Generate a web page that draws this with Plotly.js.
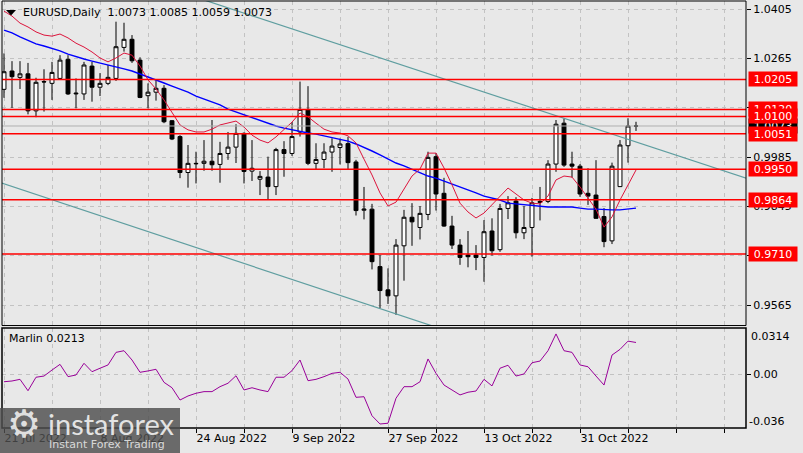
<!DOCTYPE html>
<html><head><meta charset="utf-8">
<script src="https://cdn.plot.ly/plotly-3.0.1.min.js"></script>
<style>html,body{margin:0;padding:0;background:#e8e8e8;}#chart{width:803px;height:453px;}</style>
</head><body><div id="chart"></div>
<script>
// ---------- data ----------
const dates = ["2022-07-21","2022-07-22","2022-07-25","2022-07-26","2022-07-27","2022-07-28","2022-07-29",
"2022-08-01","2022-08-02","2022-08-03","2022-08-04","2022-08-05","2022-08-08","2022-08-09","2022-08-10","2022-08-11","2022-08-12",
"2022-08-15","2022-08-16","2022-08-17","2022-08-18","2022-08-19","2022-08-22","2022-08-23","2022-08-24","2022-08-25","2022-08-26",
"2022-08-29","2022-08-30","2022-08-31","2022-09-01","2022-09-02","2022-09-05","2022-09-06","2022-09-07","2022-09-08","2022-09-09",
"2022-09-12","2022-09-13","2022-09-14","2022-09-15","2022-09-16","2022-09-19","2022-09-20","2022-09-21","2022-09-22","2022-09-23",
"2022-09-26","2022-09-27","2022-09-28","2022-09-29","2022-09-30","2022-10-03","2022-10-04","2022-10-05","2022-10-06","2022-10-07",
"2022-10-10","2022-10-11","2022-10-12","2022-10-13","2022-10-14","2022-10-17","2022-10-18","2022-10-19","2022-10-20","2022-10-21",
"2022-10-24","2022-10-25","2022-10-26","2022-10-27","2022-10-28","2022-10-31","2022-11-01","2022-11-02","2022-11-03","2022-11-04",
"2022-11-07","2022-11-08","2022-11-09"];

const open = [1.0177,1.0229,1.0211,1.0221,1.0116,1.0199,1.0194,1.0208,1.0262,1.0164,
1.0164,1.0243,1.0183,1.0194,1.0208,1.0296,1.0319,1.0260,1.0159,1.0169,
1.0180,1.0088,1.0043,0.9941,0.9967,0.9967,0.9973,0.9964,0.9995,1.0013,
1.0052,0.9945,0.9922,0.9928,0.9901,1.0006,0.9995,1.0056,1.0120,0.9967,
0.9978,0.9999,1.0012,1.0023,0.9971,0.9834,0.9837,0.9674,0.9608,0.9591,
0.9733,0.9814,0.9785,0.9822,0.9986,0.9882,0.9789,0.9735,0.9707,0.9707,
0.9700,0.9775,0.9722,0.9839,0.9860,0.9770,0.9785,0.9856,0.9859,0.9965,
1.0081,0.9965,0.9959,0.9882,0.9877,0.9816,0.9747,0.9901,1.0017,1.0073];

const high = [1.0279,1.0257,1.0257,1.0252,1.0210,1.0234,1.0255,1.0274,1.0274,1.0208,
1.0255,1.0255,1.0223,1.0246,1.0369,1.0366,1.0331,1.0268,1.0194,1.0203,
1.0189,1.0090,1.0047,1.0019,1.0000,1.0033,1.0090,1.0028,1.0056,1.0078,
1.0055,1.0033,0.9945,0.9986,1.0011,1.0030,1.0084,1.0199,1.0186,1.0024,
1.0024,1.0038,1.0037,1.0042,0.9977,0.9900,0.9852,0.9707,0.9669,0.9752,
0.9835,0.9854,0.9846,1.0000,0.9996,0.9926,0.9818,0.9752,0.9775,0.9735,
0.9806,0.9811,0.9852,0.9874,0.9871,0.9846,0.9869,0.9900,0.9976,1.0090,
1.0094,1.0000,0.9965,0.9953,0.9976,0.9840,0.9969,1.0033,1.0095,1.0085];

const low = [1.0153,1.0124,1.0178,1.0106,1.0098,1.0114,1.0147,1.0206,1.0161,1.0123,
1.0147,1.0142,1.0158,1.0189,1.0201,1.0284,1.0252,1.0152,1.0123,1.0145,
1.0081,1.0033,0.9925,0.9898,0.9910,0.9946,0.9946,0.9912,0.9977,0.9968,
0.9910,0.9917,0.9877,0.9864,0.9877,0.9929,0.9988,1.0043,0.9962,0.9951,
0.9953,0.9943,0.9964,0.9951,0.9819,0.9808,0.9666,0.9556,0.9568,0.9537,
0.9634,0.9733,0.9751,0.9806,0.9833,0.9787,0.9724,0.9679,0.9672,0.9664,
0.9631,0.9705,0.9716,0.9809,0.9754,0.9752,0.9702,0.9805,0.9854,0.9943,
0.9957,0.9927,0.9872,0.9849,0.9810,0.9729,0.9738,0.9900,0.9969,1.0059];

const close = [1.0227,1.0213,1.0221,1.0116,1.0197,1.0198,1.0225,1.0260,1.0164,1.0166,
1.0246,1.0183,1.0194,1.0211,1.0298,1.0319,1.0258,1.0154,1.0169,1.0180,
1.0085,1.0036,0.9941,0.9967,0.9966,0.9973,0.9963,0.9995,1.0013,1.0052,
0.9944,0.9953,0.9930,0.9901,1.0006,0.9995,1.0043,1.0120,0.9967,0.9978,
0.9999,1.0016,1.0022,0.9969,0.9833,0.9837,0.9688,0.9606,0.9591,0.9735,
0.9814,0.9801,0.9825,0.9984,0.9880,0.9789,0.9735,0.9700,0.9702,0.9700,
0.9773,0.9719,0.9839,0.9855,0.9770,0.9785,0.9855,0.9859,0.9965,1.0078,
0.9962,0.9959,0.9880,0.9874,0.9811,0.9745,0.9959,1.0019,1.0073,1.0073];

const maRed = [1.0399,1.0385,1.0365,1.0354,1.0340,1.0331,1.0328,1.0334,1.0323,1.0308,
1.0297,1.0283,1.0266,1.0255,1.0266,1.0280,1.0274,1.0243,1.0204,1.0178,
1.0147,1.0113,1.0076,1.0062,1.0056,1.0056,1.0064,1.0076,1.0081,1.0087,
1.0070,1.0047,1.0033,1.0025,1.0042,1.0062,1.0084,1.0110,1.0099,1.0081,
1.0064,1.0056,1.0053,1.0045,1.0025,0.9979,0.9934,0.9883,0.9846,0.9857,
0.9894,0.9931,0.9951,0.9996,0.9996,0.9954,0.9906,0.9854,0.9829,0.9812,
0.9826,0.9849,0.9872,0.9897,0.9880,0.9863,0.9854,0.9852,0.9874,0.9920,
0.9931,0.9928,0.9900,0.9869,0.9837,0.9786,0.9815,0.9863,0.9906,0.9948];

const maBlue = [1.0345,1.0337,1.0326,1.0317,1.0306,1.0300,1.0294,1.0286,1.0277,1.0269,
1.0263,1.0257,1.0252,1.0246,1.0240,1.0235,1.0229,1.0221,1.0212,1.0204,
1.0195,1.0186,1.0178,1.0169,1.0158,1.0149,1.0141,1.0133,1.0121,1.0113,
1.0104,1.0096,1.0087,1.0079,1.0073,1.0067,1.0062,1.0059,1.0053,1.0050,
1.0045,1.0039,1.0036,1.0030,1.0022,1.0013,1.0002,0.9991,0.9979,0.9968,
0.9960,0.9951,0.9940,0.9931,0.9925,0.9917,0.9908,0.9900,0.9891,0.9883,
0.9874,0.9869,0.9863,0.9854,0.9852,0.9849,0.9846,0.9846,0.9843,0.9843,
0.9843,0.9843,0.9840,0.9837,0.9837,0.9835,0.9835,0.9835,0.9837,0.9840];

const marlin = [-0.0049,-0.0044,-0.0033,-0.0109,-0.0019,-0.0011,0.0029,0.0067,-0.0015,-0.0004,
0.0074,0.0018,0.0041,0.0063,0.0147,0.0158,0.0096,0.0014,0.0023,0.0034,
-0.0053,-0.0089,-0.0171,-0.0144,-0.0126,-0.0115,-0.0115,-0.0082,-0.0059,-0.0009,
-0.0104,-0.0089,-0.0104,-0.0115,-0.0019,-0.0019,0.0025,0.0096,-0.0042,-0.0033,
-0.0015,0.0007,0.0014,-0.0031,-0.0153,-0.0149,-0.0276,-0.0331,-0.0326,-0.0159,
-0.0082,-0.0082,-0.0049,0.0103,0.0007,-0.0071,-0.0104,-0.0137,-0.0119,-0.0111,
-0.0033,-0.0077,0.0041,0.0061,-0.0011,0.0003,0.0078,0.0089,0.0158,0.0270,
0.0158,0.0147,0.0063,0.0051,-0.0011,-0.0071,0.0129,0.0167,0.0222,0.0213];

const levels = [1.0205,1.0120,1.0100,1.0051,0.9950,0.9864,0.9710];
const bidPrice = 1.0073;
const priceTicks = [1.0405,1.0265,1.0125,0.9985,0.9845,0.9705,0.9565];
const marlinScale = [0.0314,0.00,-0.036];
const labelDates = ["2022-07-21","2022-08-08","2022-08-24","2022-09-09","2022-09-27","2022-10-13","2022-10-31"];
const labelTexts = ["21 Jul 2022","8 Aug 2022","24 Aug 2022","9 Sep 2022","27 Sep 2022","13 Oct 2022","31 Oct 2022"];
// trend channel anchors: [bar index, price]
const trendUpperIdx = [20, 95], trendUpperPrice = [1.0468, 0.9908];
const trendLowerIdx = [-2, 60], trendLowerPrice = [0.9924, 0.9457];

// ---------- layout helpers ----------
const PL=2, PT=1, PW=744, PH=427;
const px = x => (x-PL)/PW;
const py = y => (PT+PH-y)/PH;
const FONT = 'DejaVu Sans';
const idx = dates.map((d,i)=>i);
const n = dates.length;

const gridVals = [];
for (let v=0; v<=90; v+=6) gridVals.push(v);
const gridText = gridVals.map(v => {
  const j = labelDates.indexOf(dates[v]);
  return j >= 0 ? labelTexts[j] : '';
});

const traces = [
  {type:'candlestick', x:idx, open:open, high:high, low:low, close:close,
   increasing:{line:{color:'#000',width:1}, fillcolor:'#ffffff'},
   decreasing:{line:{color:'#000',width:1}, fillcolor:'#000000'},
   whiskerwidth:0, hoverinfo:'skip', xaxis:'x', yaxis:'y', showlegend:false},
  {type:'scatter', mode:'lines', x:idx, y:maBlue, line:{color:'#0000ff',width:1.4}, hoverinfo:'skip', showlegend:false},
  {type:'scatter', mode:'lines', x:idx, y:maRed, line:{color:'#dc143c',width:1}, hoverinfo:'skip', showlegend:false},
  {type:'scatter', mode:'lines', x:idx, y:marlin, yaxis:'y2', line:{color:'#990099',width:1}, hoverinfo:'skip', showlegend:false}
];

const shapes = [];
// trend channel
shapes.push({type:'line', xref:'x', yref:'y', x0:trendUpperIdx[0], x1:trendUpperIdx[1], y0:trendUpperPrice[0], y1:trendUpperPrice[1], line:{color:'#5f9ea0',width:1.2}});
shapes.push({type:'line', xref:'x', yref:'y', x0:trendLowerIdx[0], x1:trendLowerIdx[1], y0:trendLowerPrice[0], y1:trendLowerPrice[1], line:{color:'#5f9ea0',width:1.2}});
// bid line
shapes.push({type:'line', xref:'paper', yref:'y', x0:0, x1:1, y0:bidPrice, y1:bidPrice, line:{color:'#b0b0b0',width:1}});
// levels
levels.forEach(l => shapes.push({type:'line', xref:'paper', yref:'y', x0:0, x1:1, y0:l, y1:l, line:{color:'#ff0000',width:1.5}}));
// frames
shapes.push({type:'rect', xref:'paper', yref:'paper', x0:0, x1:1, y0:0.2400, y1:1, line:{color:'#000',width:1}});
shapes.push({type:'rect', xref:'paper', yref:'paper', x0:0, x1:1, y0:0, y1:0.2342, line:{color:'#000',width:1.5}});
// title marker triangle
shapes.push({type:'path', xref:'paper', yref:'paper',
  path:'M '+px(6)+' '+py(10)+' L '+px(16)+' '+py(10)+' L '+px(11)+' '+py(15.5)+' Z',
  fillcolor:'#000', line:{width:0}});
// watermark box
shapes.push({type:'rect', xref:'paper', yref:'paper', x0:px(0), x1:px(180), y0:py(453), y1:py(408), line:{width:0}, fillcolor:'rgba(78,78,78,0.82)'});

const ann = [];
// right side price labels
ann.push({xref:'paper', yref:'y', x:1, y:bidPrice, xanchor:'left', xshift:2, text:bidPrice.toFixed(4), showarrow:false,
  font:{family:FONT,size:11,color:'#fff'}, bgcolor:'#000', width:46, height:12, borderpad:1});
levels.forEach(l => ann.push({xref:'paper', yref:'y', x:1, y:l, xanchor:'left', xshift:2, text:l.toFixed(4), showarrow:false,
  font:{family:FONT,size:11,color:'#fff'}, bgcolor:'#ff0000', width:46, height:12, borderpad:1}));
// title
const last = n-1;
ann.push({xref:'paper', yref:'paper', x:px(21), y:py(12.5), xanchor:'left', yanchor:'middle', showarrow:false,
  text:'EURUSD,Daily  '+[open[last],high[last],low[last],close[last]].map(v=>v.toFixed(4)).join(' '),
  font:{family:FONT,size:11,color:'#000'}});
ann.push({xref:'paper', yref:'paper', x:px(7), y:py(338), xanchor:'left', yanchor:'middle', showarrow:false,
  text:'Marlin '+marlin[last].toFixed(4), font:{family:FONT,size:11,color:'#000'}});
// indicator scale labels (top / bottom)
ann.push({xref:'paper', yref:'paper', x:1, xshift:3, y:py(336.7), xanchor:'left', yanchor:'middle', showarrow:false,
  text:marlinScale[0].toFixed(4), font:{family:FONT,size:11,color:'#000'}});
ann.push({xref:'paper', yref:'paper', x:1, xshift:1, y:py(421), xanchor:'left', yanchor:'middle', showarrow:false,
  text:marlinScale[2].toFixed(3), font:{family:FONT,size:11,color:'#000'}});
// watermark
ann.push({xref:'paper', yref:'paper', x:px(24), y:py(424), xanchor:'center', yanchor:'middle', showarrow:false,
  text:'⚙', font:{family:FONT,size:38,color:'rgba(240,240,240,0.9)'}});
ann.push({xref:'paper', yref:'paper', x:px(46), y:py(423), xanchor:'left', yanchor:'middle', showarrow:false,
  text:'instaforex', font:{family:'Lato',size:29,color:'rgba(240,240,240,0.92)'}});
ann.push({xref:'paper', yref:'paper', x:px(47), y:py(444.5), xanchor:'left', yanchor:'middle', showarrow:false,
  text:'Instant Forex Trading', font:{family:FONT,size:11,color:'rgba(230,230,230,0.9)'}});

const layout = {
  width:803, height:453,
  margin:{l:PL, r:803-PL-PW, t:PT, b:453-PT-PH, pad:0},
  paper_bgcolor:'#e8e8e8', plot_bgcolor:'#e8e8e8',
  showlegend:false, dragmode:false,
  xaxis:{range:[-0.25,92.75], anchor:'y2', rangeslider:{visible:false},
    tickmode:'array', tickvals:gridVals, ticktext:gridText, ticklabelposition:'outside right',
    ticks:'outside', ticklen:4, tickcolor:'#000', showgrid:true, gridcolor:'#c2c2c2', griddash:'4px,4px', gridwidth:1,
    zeroline:false, showline:false, tickfont:{family:FONT,size:11,color:'#000'}, fixedrange:true},
  yaxis:{domain:[0.2400,1], range:[0.95068,1.04277], side:'right', anchor:'x',
    tickmode:'array', tickvals:priceTicks, ticktext:priceTicks.map(v=>v.toFixed(4)),
    ticks:'outside', ticklen:4, tickcolor:'#000', showgrid:true, gridcolor:'#c2c2c2', griddash:'4px,4px',
    zeroline:false, showline:false, tickfont:{family:FONT,size:11,color:'#000'}, fixedrange:true},
  yaxis2:{domain:[0,0.2342], range:[-0.03577,0.03096], side:'right', anchor:'x',
    tickmode:'array', tickvals:[marlinScale[1]], ticktext:[marlinScale[1].toFixed(2)],
    ticks:'outside', ticklen:4, tickcolor:'#000', showgrid:true, gridcolor:'#c2c2c2', griddash:'4px,4px',
    zeroline:false, showline:false, tickfont:{family:FONT,size:11,color:'#000'}, fixedrange:true},
  shapes:shapes, annotations:ann
};

Plotly.newPlot('chart', traces, layout, {displayModeBar:false, staticPlot:true});
</script>
</body></html>
